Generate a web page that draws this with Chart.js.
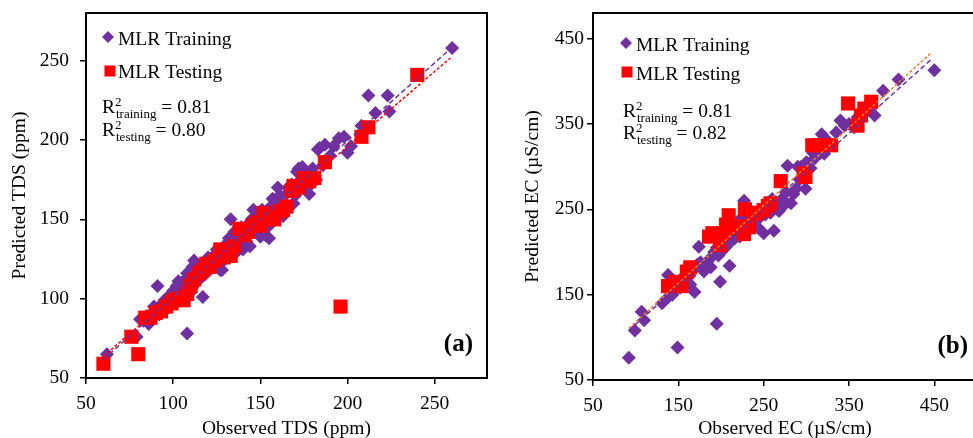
<!DOCTYPE html>
<html>
<head>
<meta charset="utf-8">
<script src="https://cdn.jsdelivr.net/npm/chart.js@4.4.0/dist/chart.umd.min.js"></script>
<style>
  html, body { margin: 0; padding: 0; background: #fff; overflow: hidden; }
  canvas { position: absolute; top: 0; }
  #chartA { left: 0; }
  #chartB { left: 490px; }
</style>
</head>
<body>
<canvas id="chartA" width="497" height="438"></canvas>
<canvas id="chartB" width="497" height="438"></canvas>
<script>
// ---- data ----
// (a) TDS, MLR training
const tdsTrainX = [62, 79, 81, 83, 85, 86, 88, 89, 90, 91, 92, 93, 94, 95, 96, 97, 98, 99, 100, 101, 102, 103, 104, 105, 106, 107, 108, 108, 109, 110, 111, 111, 112, 113, 114, 115, 116, 117, 117, 118, 119, 120, 121, 122, 123, 124, 125, 126, 127, 127, 128, 129, 130, 131, 132, 133, 134, 134, 135, 136, 137, 138, 139, 140, 140, 141, 142, 143, 144, 145, 146, 146, 147, 148, 149, 150, 151, 152, 153, 154, 155, 155, 156, 157, 158, 159, 160, 161, 162, 163, 164, 165, 166, 168, 169, 170, 171, 172, 173, 174, 176, 177, 178, 179, 180, 182, 183, 184, 186, 187, 190, 192, 195, 198, 200, 202, 208, 212, 216, 223, 224, 260];
const tdsTrainY = [65, 76, 87, 86, 89, 84, 91, 95, 93, 108, 90, 96, 97, 99, 93, 101, 100, 103, 105, 98, 108, 111, 106, 110, 103, 112, 116, 78, 109, 104, 120, 107, 124, 113, 111, 118, 120, 101, 122, 115, 117, 126, 124, 119, 122, 128, 131, 125, 118, 122, 118, 131, 134, 126, 138, 150, 128, 139, 142, 132, 130, 136, 145, 131, 143, 140, 136, 147, 133, 150, 156, 144, 143, 152, 145, 139, 156, 148, 140, 155, 138, 146, 158, 163, 150, 154, 170, 165, 160, 152, 158, 166, 170, 172, 160, 165, 180, 182, 175, 183, 170, 178, 166, 172, 182, 175, 194, 195, 184, 197, 190, 196, 201, 202, 192, 196, 209, 228, 217, 228, 218, 258];
// (a) TDS, MLR testing
const tdsTestX = [60, 76, 80, 84, 87, 90, 93, 96, 99, 100, 103, 106, 108, 110, 112, 115, 117, 119, 121, 124, 127, 129, 131, 133, 135, 138, 141, 143, 146, 148, 150, 152, 155, 158, 161, 163, 165, 168, 169, 172, 175, 178, 181, 187, 196, 208, 212, 240];
const tdsTestY = [59, 76, 65, 88, 88, 91, 92, 95, 97, 99, 100, 99, 103, 108, 112, 116, 118, 122, 120, 124, 131, 126, 128, 127, 133, 144, 140, 142, 146, 148, 146, 154, 150, 150, 155, 156, 158, 168, 171, 170, 176, 174, 176, 186, 95, 202, 208, 241];
// (b) EC, MLR training
const ecTrainX = [92, 99, 107, 110, 131, 138, 138, 142, 143, 145, 149, 150, 152, 155, 158, 160, 163, 164, 167, 169, 172, 174, 176, 178, 180, 183, 185, 188, 190, 192, 195, 195, 197, 199, 200, 202, 204, 206, 208, 210, 212, 215, 218, 220, 222, 224, 226, 227, 230, 232, 235, 238, 240, 243, 246, 248, 250, 252, 255, 258, 260, 262, 265, 266, 268, 270, 272, 274, 276, 278, 282, 285, 288, 290, 292, 294, 299, 300, 305, 308, 310, 315, 318, 321, 325, 330, 335, 340, 345, 350, 356, 360, 365, 372, 380, 390, 408, 450];
const ecTrainY = [76, 108, 130, 120, 140, 147, 173, 155, 150, 158, 88, 165, 158, 170, 168, 175, 172, 162, 180, 153, 185, 206, 188, 182, 177, 186, 190, 182, 195, 200, 116, 205, 196, 165, 200, 214, 212, 206, 210, 184, 222, 215, 225, 230, 218, 240, 231, 260, 236, 245, 228, 240, 235, 229, 241, 250, 222, 244, 250, 246, 262, 225, 258, 250, 248, 253, 262, 255, 270, 301, 257, 268, 274, 300, 285, 300, 274, 305, 298, 316, 310, 320, 338, 315, 330, 325, 340, 354, 348, 350, 346, 358, 362, 366, 360, 389, 402, 413];
// (b) EC, MLR testing
const ecTestX = [138, 146, 154, 160, 164, 186, 190, 195, 199, 203, 206, 209, 212, 222, 227, 228, 233, 238, 242, 250, 255, 258, 270, 297, 299, 307, 315, 329, 349, 360, 364, 368, 376];
const ecTestY = [160, 165, 160, 177, 182, 218, 222, 220, 208, 222, 232, 243, 228, 230, 221, 250, 229, 246, 245, 249, 254, 257, 283, 292, 288, 325, 325, 325, 374, 348, 360, 368, 376];

// trend lines: [slope, intercept], x range
const tdsFitTrain = [0.984, 2.6];
const tdsFitTest = [0.945, 6.9];
const tdsFitRange = [60, 259];
const ecFitTrain = [0.896, 25.6];
const ecFitTest = [0.911, 26.7];
const ecFitRange = [92, 447];

const tdsTicks = [50, 100, 150, 200, 250];
const ecTicks = [50, 150, 250, 350, 450];

const seriesNames = ['MLR Training', 'MLR Testing'];
const r2A = ['0.81', '0.80'];
const r2B = ['0.81', '0.82'];

const PURPLE = '#7030A0';
const RED = '#FF0000';
const ORANGE = '#ED7D31';
const FONT = '"Liberation Serif", "Times New Roman", serif';

Chart.defaults.color = '#000';
Chart.defaults.font.family = FONT;

function toPoints(xs, ys) {
    return xs.map((x, i) => ({ x: x, y: ys[i] }));
}

function fitLine(fit, range) {
    return range.map(x => ({ x: x, y: fit[0] * x + fit[1] }));
}

// draws the frame, the legend, the R2 notes and the panel letter
const notesPlugin = {
    id: 'notes',
    afterDatasetsDraw(chart, args, o) {
        const ctx = chart.ctx;
        const a = chart.chartArea;
        ctx.save();
        ctx.strokeStyle = '#000';
        ctx.lineWidth = 2;
        ctx.strokeRect(a.left, a.top, a.right - a.left, a.bottom - a.top);

        // legend
        ctx.fillStyle = PURPLE;
        ctx.beginPath();
        ctx.moveTo(o.dia[0], o.dia[1] - 6);
        ctx.lineTo(o.dia[0] + 6, o.dia[1]);
        ctx.lineTo(o.dia[0], o.dia[1] + 6);
        ctx.lineTo(o.dia[0] - 6, o.dia[1]);
        ctx.closePath();
        ctx.fill();
        ctx.fillStyle = RED;
        ctx.fillRect(o.sq[0] - 5.5, o.sq[1] - 5.5, 11, 11);

        ctx.fillStyle = '#000';
        ctx.textBaseline = 'alphabetic';
        ctx.textAlign = 'left';
        ctx.font = '19.5px ' + FONT;
        ctx.fillText(seriesNames[0], o.textX, o.base[0]);
        ctx.fillText(seriesNames[1], o.textX, o.base[1]);

        // R2 lines
        const subs = ['training', 'testing'];
        for (let i = 0; i < 2; i++) {
            const y = o.rBase[i];
            ctx.font = '19.5px ' + FONT;
            ctx.fillText('R', o.rX, y);
            const w = ctx.measureText('R').width;
            ctx.font = '13px ' + FONT;
            ctx.fillText('2', o.rX + w, y - 7);
            ctx.fillText(subs[i], o.rX + w + 1, y + 5);
            const ws = ctx.measureText(subs[i]).width;
            ctx.font = '19.5px ' + FONT;
            ctx.fillText(' = ' + o.r2[i], o.rX + w + 1 + ws, y);
        }

        // panel letter
        ctx.font = 'bold 25px ' + FONT;
        ctx.textAlign = 'right';
        ctx.textBaseline = 'middle';
        ctx.fillText(o.letter, a.right - o.letterDx, a.bottom - 33);
        ctx.restore();
    }
};

function axis(min, max, ticks, title, fitSize, tickPad, titlePad, horizontal) {
    return {
        type: 'linear',
        min: min,
        max: max,
        afterBuildTicks: s => { s.ticks = ticks.map(v => ({ value: v })); },
        afterFit: s => {
            // fixed sizes so the plot box lands where the figure has it
            if (horizontal) s.height = fitSize; else s.width = fitSize;
            s.paddingTop = 0; s.paddingBottom = 0;
            s.paddingLeft = 0; s.paddingRight = 0;
        },
        border: { display: false },
        grid: { drawOnChartArea: false, drawTicks: true, tickLength: 6, color: '#000', lineWidth: 1.5 },
        ticks: { padding: tickPad, font: { size: 19.5 }, color: '#000' },
        title: { display: true, text: title, font: { size: 19.5 }, color: '#000', padding: titlePad }
    };
}

function makeChart(id, trainX, trainY, testX, testY, fitTr, fitTe, range, testLineColor, scales, notes, padRight) {
    return new Chart(document.getElementById(id), {
        type: 'scatter',
        data: {
            datasets: [
                {
                    type: 'line', data: fitLine(fitTr, range), borderColor: PURPLE, borderWidth: 1.5,
                    borderDash: [5, 3], pointRadius: 0, fill: false, order: 0
                },
                {
                    type: 'line', data: fitLine(fitTe, range), borderColor: testLineColor, borderWidth: 1.5,
                    borderDash: [3, 2], pointRadius: 0, fill: false, order: 0
                },
                {
                    label: seriesNames[1], data: toPoints(testX, testY), pointStyle: 'rect',
                    pointRadius: 10, backgroundColor: RED, borderColor: RED, borderWidth: 0, order: 1
                },
                {
                    label: seriesNames[0], data: toPoints(trainX, trainY), pointStyle: 'rectRot',
                    pointRadius: 7, backgroundColor: PURPLE, borderColor: PURPLE, borderWidth: 0, order: 2
                }
            ]
        },
        options: {
            responsive: false,
            animation: false,
            layout: { padding: { top: 13, right: padRight, left: 0, bottom: 0 } },
            plugins: { legend: { display: false }, tooltip: { enabled: false }, notes: notes },
            scales: scales
        },
        plugins: [notesPlugin]
    });
}

makeChart('chartA', tdsTrainX, tdsTrainY, tdsTestX, tdsTestY, tdsFitTrain, tdsFitTest, tdsFitRange, RED, {
    x: axis(50, 280, tdsTicks, 'Observed TDS (ppm)', 60, 8, { top: 0, bottom: -3 }, true),
    y: axis(50, 280, tdsTicks, 'Predicted TDS (ppm)', 86, 11, { top: 8, bottom: 0 }, false)
}, {
    dia: [108, 37], sq: [110, 71], textX: 118, base: [45, 78],
    rX: 102, rBase: [113, 136], r2: r2A, letter: '(a)', letterDx: 14
}, 3);

makeChart('chartB', ecTrainX, ecTrainY, ecTestX, ecTestY, ecFitTrain, ecFitTest, ecFitRange, ORANGE, {
    x: axis(50, 500, ecTicks, 'Observed EC (\u00b5S/cm)', 58, 8, { top: 0, bottom: -3 }, true),
    y: axis(50, 480, ecTicks, 'Predicted EC (\u00b5S/cm)', 103, 3, { top: 31, bottom: 0 }, false)
}, {
    dia: [136, 43], sq: [137, 72], textX: 146, base: [51, 80],
    rX: 133, rBase: [117, 139], r2: r2B, letter: '(b)', letterDx: 9
}, 4);
</script>
</body>
</html>
